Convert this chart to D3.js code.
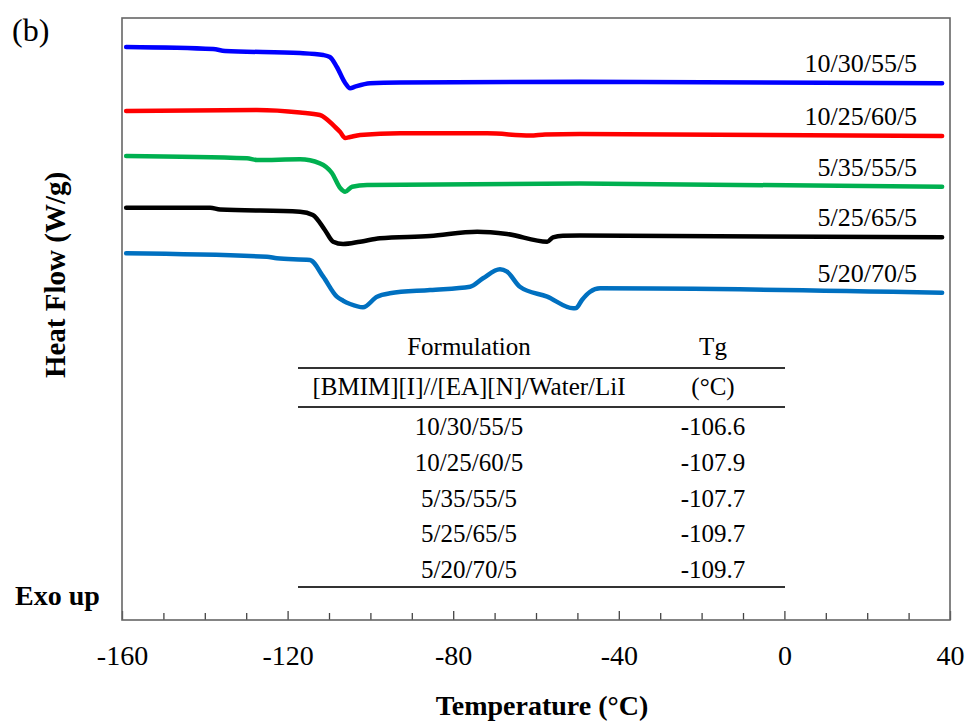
<!DOCTYPE html>
<html>
<head>
<meta charset="utf-8">
<script src="https://cdn.jsdelivr.net/npm/d3@7"></script>
<style>
  body { margin: 0; background: #fff; }
  text { font-family: "Times New Roman", "Liberation Serif", serif; }
</style>
</head>
<body>
<div id="chart"></div>
<script>
// DSC traces, temperature (°C) vs heat flow (arbitrary offset, W/g)
const series = ["10/30/55/5", "10/25/60/5", "5/35/55/5", "5/25/65/5", "5/20/70/5"];
const colors = ["#0000ff", "#ff0000", "#00b050", "#000000", "#0070c0"];

const temp1 = [-159.0, -138.0, -135.1, -117.0, -111.4, -109.8, -108.1, -106.1, -104.9, -103.7, -100.1, -92.8, -49.4, 38.1];
const flow1 = [5.73, 5.71, 5.69, 5.67, 5.65, 5.63, 5.53, 5.37, 5.317, 5.333, 5.367, 5.375, 5.383, 5.367];

const temp2 = [-159.0, -127.4, -117.0, -112.2, -108.6, -107.3, -106.1, -104.9, -102.5, -92.8, -71.8, -61.4, -57.8, -49.4, 38.1];
const flow2 = [5.09, 5.10, 5.075, 5.05, 4.933, 4.88, 4.82, 4.83, 4.85, 4.867, 4.867, 4.845, 4.855, 4.86, 4.84];

const temp3 = [-159.0, -129.8, -127.4, -117.0, -112.2, -109.3, -107.3, -106.1, -104.4, -100.8, -49.4, 38.1];
const flow3 = [4.64, 4.617, 4.60, 4.607, 4.567, 4.47, 4.32, 4.283, 4.333, 4.35, 4.365, 4.333];

const temp4 = [-159.0, -138.7, -136.3, -117.0, -113.9, -111.0, -109.0, -106.6, -102.5, -97.7, -85.6, -74.2, -67.0, -57.3, -55.9, -53.5, -49.4, 38.1];
const flow4 = [4.123, 4.123, 4.105, 4.083, 4.05, 3.90, 3.783, 3.76, 3.783, 3.817, 3.84, 3.883, 3.86, 3.783, 3.827, 3.843, 3.845, 3.827];

const temp5 = [-159.0, -125.0, -122.6, -114.6, -111.4, -108.1, -106.6, -104.9, -101.8, -98.4, -95.3, -85.6, -75.9, -72.8, -68.7, -67.0, -63.9, -57.3, -51.0, -50.3, -48.9, -47.0, -44.5, 38.1];
const flow5 = [3.667, 3.633, 3.617, 3.60, 3.433, 3.233, 3.193, 3.16, 3.127, 3.233, 3.267, 3.30, 3.333, 3.417, 3.507, 3.483, 3.333, 3.233, 3.117, 3.12, 3.20, 3.28, 3.317, 3.273];

const temps = [temp1, temp2, temp3, temp4, temp5];
const flows = [flow1, flow2, flow3, flow4, flow5];

// inset table
const formulations = ["10/30/55/5", "10/25/60/5", "5/35/55/5", "5/25/65/5", "5/20/70/5"];
const tgValues = ["-106.6", "-107.9", "-107.7", "-109.7", "-109.7"];

const xTicks = d3.range(-160, 41, 10);

const W = 971, H = 725;
const MARGIN = { LEFT: 122, RIGHT: 21, TOP: 18, BOTTOM: 105 };
const WIDTH = W - MARGIN.LEFT - MARGIN.RIGHT;
const HEIGHT = H - MARGIN.TOP - MARGIN.BOTTOM;

const svg = d3.select("#chart").append("svg")
  .attr("width", W)
  .attr("height", H);

const g = svg.append("g")
  .attr("transform", `translate(${MARGIN.LEFT}, ${MARGIN.TOP})`);

const x = d3.scaleLinear().domain([-160, 40]).range([0, WIDTH]);
const y = d3.scaleLinear().domain([0, 6.02]).range([HEIGHT, 0]);

// X axis, ticks pointing inward
const xAxis = g.append("g")
  .attr("transform", `translate(0, ${HEIGHT})`)
  .call(d3.axisBottom(x)
    .tickValues(xTicks)
    .tickSize(-7)
    .tickPadding(25)
    .tickFormat(d => d % 40 === 0 ? d : ""));
xAxis.select(".domain").remove();
xAxis.selectAll(".tick line")
  .attr("y2", d => d % 40 === 0 ? -9 : -7)
  .attr("stroke", "#444")
  .attr("stroke-width", 1.3);
xAxis.selectAll(".tick text")
  .attr("font-family", "'Times New Roman', 'Liberation Serif', serif")
  .attr("font-size", 28)
  .attr("fill", "#000");

// frame
g.append("rect")
  .attr("x", 0).attr("y", 0)
  .attr("width", WIDTH).attr("height", HEIGHT)
  .attr("fill", "none")
  .attr("stroke", "#666")
  .attr("stroke-width", 1.6);

// curves
const line = d3.line()
  .x(d => x(d[0]))
  .y(d => y(d[1]))
  .curve(d3.curveMonotoneX);

series.forEach(function (name, i) {
  const pts = temps[i].map((t, j) => [t, flows[i][j]]);
  g.append("path")
    .datum(pts)
    .attr("fill", "none")
    .attr("stroke", colors[i])
    .attr("stroke-width", 4.5)
    .attr("stroke-linecap", "round")
    .attr("stroke-linejoin", "round")
    .attr("d", line);

  // label above the right end
  const last = pts[pts.length - 1];
  g.append("text")
    .attr("x", x(last[0]) - 25)
    .attr("y", y(last[1]) - 11)
    .attr("text-anchor", "end")
    .attr("font-size", 26)
    .text(name);
});

// inset table
const tbl = svg.append("g");
const colL = 469, colR = 713, tLeft = 298, tRight = 785;
const rowY = d3.scalePoint().domain(formulations).range([435, 578]);

tbl.append("text").attr("x", colL).attr("y", 355).attr("text-anchor", "middle")
  .attr("font-size", 25).text("Formulation");
tbl.append("text").attr("x", colR).attr("y", 355).attr("text-anchor", "middle")
  .attr("font-size", 25).text("Tg");
tbl.append("text").attr("x", colL).attr("y", 395).attr("text-anchor", "middle")
  .attr("font-size", 25).text("[BMIM][I]//[EA][N]/Water/LiI");
tbl.append("text").attr("x", colR).attr("y", 395).attr("text-anchor", "middle")
  .attr("font-size", 25).text("(°C)");

[368, 407, 587].forEach(function (ly) {
  tbl.append("line")
    .attr("x1", tLeft).attr("x2", tRight)
    .attr("y1", ly).attr("y2", ly)
    .attr("stroke", "#333")
    .attr("stroke-width", 2);
});

tbl.selectAll("text.form")
  .data(formulations)
  .enter()
  .append("text")
  .attr("class", "form")
  .attr("x", colL)
  .attr("y", d => rowY(d))
  .attr("text-anchor", "middle")
  .attr("font-size", 25)
  .text(d => d);

tbl.selectAll("text.tg")
  .data(tgValues)
  .enter()
  .append("text")
  .attr("class", "tg")
  .attr("x", colR)
  .attr("y", (d, i) => rowY(formulations[i]))
  .attr("text-anchor", "middle")
  .attr("font-size", 25)
  .text(d => d);

// titles
svg.append("text")
  .attr("x", 542).attr("y", 715)
  .attr("text-anchor", "middle")
  .attr("font-size", 28)
  .attr("font-weight", "bold")
  .text("Temperature (°C)");

svg.append("text")
  .attr("transform", "translate(65,275) rotate(-90)")
  .attr("text-anchor", "middle")
  .attr("font-size", 29)
  .attr("font-weight", "bold")
  .text("Heat Flow (W/g)");

svg.append("text")
  .attr("x", 15).attr("y", 605)
  .attr("font-size", 28)
  .attr("font-weight", "bold")
  .text("Exo up");

svg.append("text")
  .attr("x", 12).attr("y", 41)
  .attr("font-size", 32)
  .text("(b)");
</script>
</body>
</html>
